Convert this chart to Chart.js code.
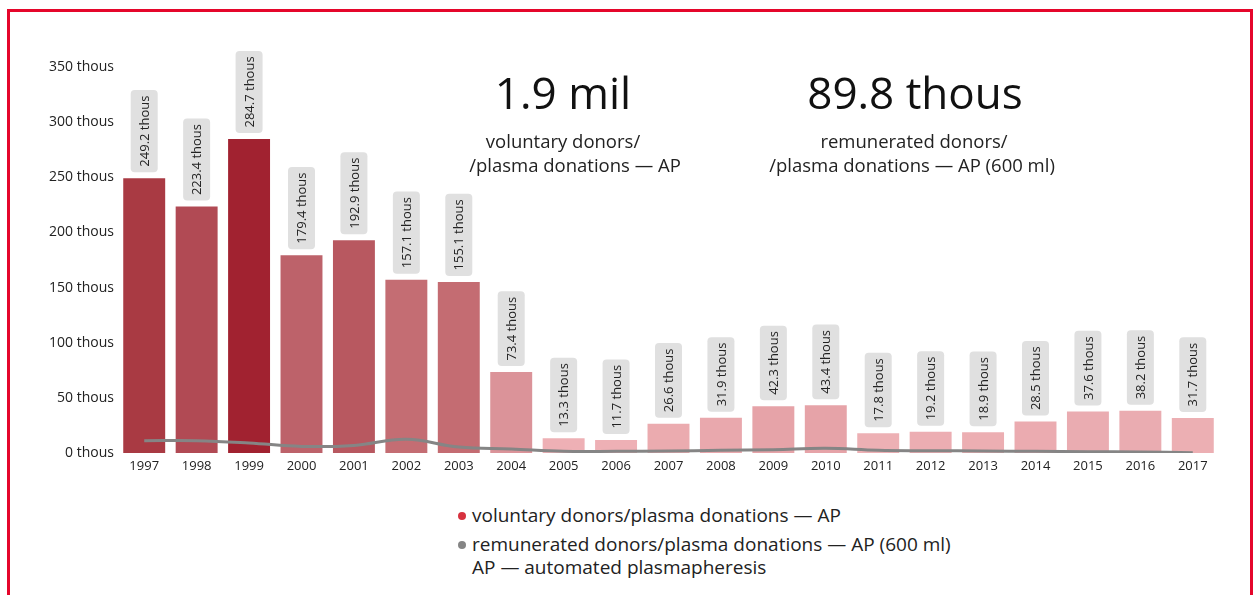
<!DOCTYPE html>
<html>
<head>
<meta charset="utf-8">
<script src="https://cdn.jsdelivr.net/npm/chart.js@4/dist/chart.umd.min.js"></script>
<style>
  html, body { margin: 0; padding: 0; background: #fff; }
  body { width: 1255px; height: 595px; position: relative; overflow: hidden; font-family: "Open Sans", "Noto Sans", sans-serif; color: #222; }
  .frame { position: absolute; left: 7px; top: 9px; width: 1240px; height: 640px; border: 3px solid #e5062b; }
  #wrap { position: absolute; left: 0; top: 0; width: 1255px; height: 480px; }
  .big { position: absolute; font-size: 44px; line-height: 1; color: #111; transform: translateX(-50%); white-space: nowrap; }
  .sub { position: absolute; font-size: 18.5px; line-height: 24px; transform: translateX(-50%); white-space: nowrap; text-align: center; }
  .legend { position: absolute; left: 458px; top: 501px; font-size: 19px; line-height: 29px; color: #222; }
  .legend .row { white-space: nowrap; }
  .legend .dot { display: inline-block; width: 8px; height: 8px; border-radius: 50%; margin-right: 6px; vertical-align: 2px; }
  .legend .note { padding-left: 14px; line-height: 22px; margin-top: -3px; }
</style>
</head>
<body>
<div class="frame"></div>
<div id="wrap"><canvas id="donorChart"></canvas></div>

<div class="big" style="left:563px; top:70px;">1.9 mil</div>
<div class="sub" style="left:563px; top:129px;">voluntary donors/</div>
<div class="sub" style="left:575px; top:153px;">/plasma donations — AP</div>

<div class="big" style="left:915px; top:70px;">89.8 thous</div>
<div class="sub" style="left:914px; top:129px;">remunerated donors/</div>
<div class="sub" style="left:912px; top:153px;">/plasma donations — AP (600 ml)</div>

<div class="legend">
  <div class="row"><span class="dot" style="background:#d7323f"></span>voluntary donors/plasma donations — AP</div>
  <div class="row"><span class="dot" style="background:#858585"></span>remunerated donors/plasma donations — AP (600 ml)</div>
  <div class="row note">AP — automated plasmapheresis</div>
</div>

<script>
const years = ['1997', '1998', '1999', '2000', '2001', '2002', '2003', '2004', '2005', '2006', '2007',
  '2008', '2009', '2010', '2011', '2012', '2013', '2014', '2015', '2016', '2017'];

// thousands of donations
const voluntary = [249.2, 223.4, 284.7, 179.4, 192.9, 157.1, 155.1, 73.4, 13.3, 11.7, 26.6,
  31.9, 42.3, 43.4, 17.8, 19.2, 18.9, 28.5, 37.6, 38.2, 31.7];
const remunerated = [11.2, 11.2, 9.1, 6.0, 6.9, 12.4, 5.4, 3.6, 1.5, 1.5, 1.8,
  2.4, 3.0, 4.2, 2.4, 2.1, 1.8, 1.5, 1.2, 0.9, 0.3];

const yTicks = [0, 50, 100, 150, 200, 250, 300, 350];

const barColors = ['#a93a43', '#b14a54', '#a12230', '#bd626a', '#b85860', '#c46d73', '#c46c72',
  '#db9399', '#eeb0b5', '#eeb0b5', '#ebabaf', '#e9a8ad', '#e6a3a8', '#e6a3a8', '#edb0b4',
  '#ecadb2', '#ecaeb2', '#ebabb0', '#eaacb1', '#eaacb1', '#ecafb3'];

const FONT = '"Open Sans", "Noto Sans", sans-serif';

// rotated value tags in grey rounded boxes above each bar
const valueTags = {
  id: 'valueTags',
  afterDatasetsDraw(chart) {
    const meta = chart.getDatasetMeta(1);
    const ctx = chart.ctx;
    ctx.save();
    ctx.font = `13px ${FONT}`;
    meta.data.forEach((bar, i) => {
      const text = `${voluntary[i].toFixed(1)} thous`;
      const w = ctx.measureText(text).width;
      const boxH = w + 11;
      const boxW = 27;
      const bottom = bar.y - 6;
      ctx.fillStyle = '#e0e0e0';
      ctx.beginPath();
      ctx.roundRect(bar.x - boxW / 2, bottom - boxH, boxW, boxH, 4);
      ctx.fill();
      ctx.translate(bar.x, bottom - boxH / 2);
      ctx.rotate(-Math.PI / 2);
      ctx.fillStyle = '#222';
      ctx.textAlign = 'center';
      ctx.textBaseline = 'middle';
      ctx.fillText(text, 0, 1);
      ctx.setTransform(1, 0, 0, 1, 0, 0);
    });
    ctx.restore();
  }
};

new Chart(document.getElementById('donorChart'), {
  data: {
    labels: years,
    datasets: [
      {
        type: 'line',
        label: 'remunerated donors/plasma donations — AP (600 ml)',
        data: remunerated,
        borderColor: '#858585',
        borderWidth: 3,
        pointRadius: 0,
        tension: 0.4,
        order: 1
      },
      {
        type: 'bar',
        label: 'voluntary donors/plasma donations — AP',
        data: voluntary,
        backgroundColor: barColors,
        categoryPercentage: 1,
        barPercentage: 0.8,
        order: 2
      }
    ]
  },
  options: {
    responsive: true,
    maintainAspectRatio: false,
    animation: false,
    layout: { padding: { top: 67, right: 36, left: 0, bottom: 0 } },
    plugins: {
      legend: { display: false },
      tooltip: { enabled: false }
    },
    scales: {
      x: {
        grid: { display: false, drawTicks: false },
        border: { display: false },
        ticks: { font: { family: FONT, size: 13 }, color: '#222', padding: 5, maxRotation: 0 },
        afterFit(axis) { axis.height = 27; }
      },
      y: {
        min: 0,
        max: 350,
        afterBuildTicks(axis) { axis.ticks = yTicks.map((v) => ({ value: v })); },
        grid: { display: false, drawTicks: false },
        border: { display: false },
        ticks: {
          font: { family: FONT, size: 14 },
          color: '#222',
          padding: 4,
          callback: (v) => `${v} thous`
        },
        afterFit(axis) { axis.width = 118; }
      }
    }
  },
  plugins: [valueTags]
});
</script>
</body>
</html>
